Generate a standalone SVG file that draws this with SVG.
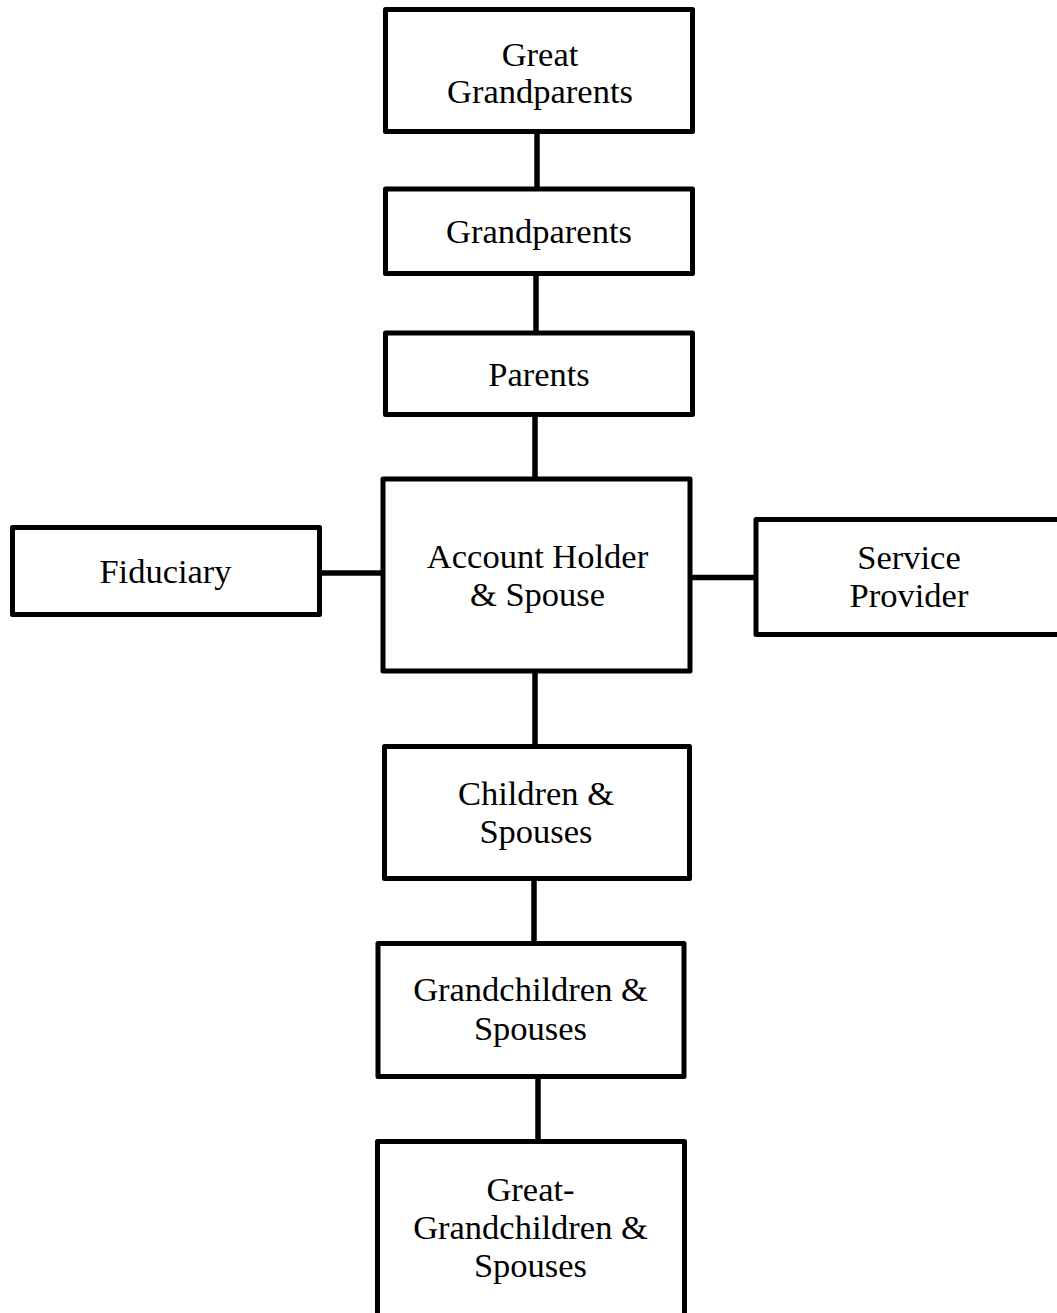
<svg xmlns="http://www.w3.org/2000/svg" width="1057" height="1313" viewBox="0 0 1057 1313">
<style>
.box{fill:#fff;stroke:#000;stroke-width:5;stroke-linejoin:round}
.lbl{font-family:"Liberation Serif","Times New Roman",serif;font-size:34.5px;fill:#000;text-anchor:middle}
.conn line{stroke:#000;stroke-width:5.5}
</style>
<rect width="1057" height="1313" fill="#fff"/>
<g id="connectors" class="conn">
<line x1="537" y1="131" x2="537" y2="189"/>
<line x1="536" y1="273" x2="536" y2="333"/>
<line x1="535" y1="414" x2="535" y2="479"/>
<line x1="535" y1="671" x2="535" y2="747"/>
<line x1="534" y1="878" x2="534" y2="944"/>
<line x1="538" y1="1076" x2="538" y2="1142"/>
<line x1="319" y1="573" x2="383" y2="573"/>
<line x1="690" y1="577.5" x2="756" y2="577.5"/>
</g>
<g id="great-grandparents">
<rect class="box" x="385.5" y="9.5" width="307" height="122"/>
<text class="lbl" x="540" y="65.5">Great</text>
<text class="lbl" x="540" y="102.5">Grandparents</text>
</g>
<g id="grandparents">
<rect class="box" x="385.5" y="189" width="307" height="84.5"/>
<text class="lbl" x="539" y="243">Grandparents</text>
</g>
<g id="parents">
<rect class="box" x="385.5" y="333" width="307" height="81.5"/>
<text class="lbl" x="539" y="386">Parents</text>
</g>
<g id="account-holder">
<rect class="box" x="383" y="479" width="307" height="192"/>
<text class="lbl" x="537.5" y="567.5">Account Holder</text>
<text class="lbl" x="537.5" y="605.5">&amp; Spouse</text>
</g>
<g id="fiduciary">
<rect class="box" x="12.5" y="527.5" width="307" height="87"/>
<text class="lbl" x="165.5" y="582.5">Fiduciary</text>
</g>
<g id="service-provider">
<rect class="box" x="756" y="519.5" width="320" height="115"/>
<text class="lbl" x="909" y="568.5">Service</text>
<text class="lbl" x="909" y="606.5">Provider</text>
</g>
<g id="children">
<rect class="box" x="384.5" y="746.5" width="305" height="132"/>
<text class="lbl" x="536" y="804.5">Children &amp;</text>
<text class="lbl" x="536" y="842.5">Spouses</text>
</g>
<g id="grandchildren">
<rect class="box" x="378" y="943.5" width="306" height="133"/>
<text class="lbl" x="530.5" y="1001">Grandchildren &amp;</text>
<text class="lbl" x="530.5" y="1040">Spouses</text>
</g>
<g id="great-grandchildren">
<rect class="box" x="377.5" y="1141.5" width="307" height="200"/>
<text class="lbl" x="530.5" y="1200.5">Great-</text>
<text class="lbl" x="530.5" y="1239">Grandchildren &amp;</text>
<text class="lbl" x="530.5" y="1277">Spouses</text>
</g>
</svg>
